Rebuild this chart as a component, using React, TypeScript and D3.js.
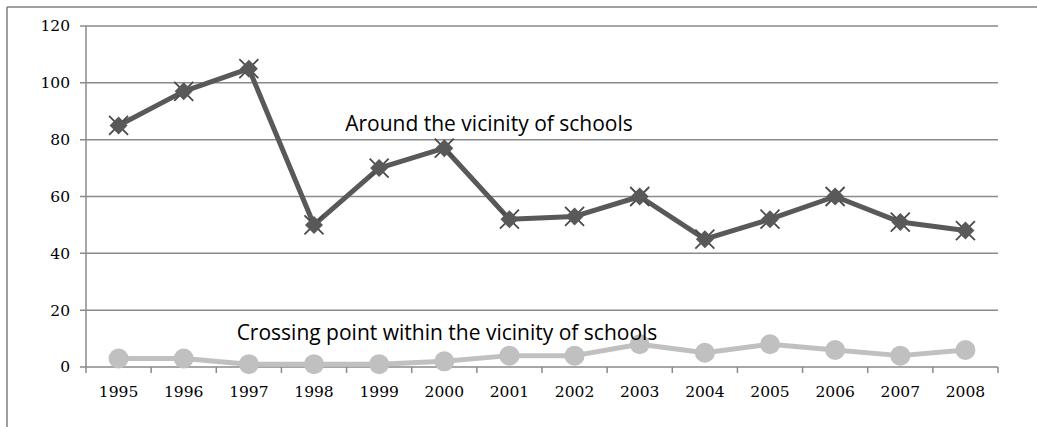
import React from "react";
import * as d3 from "d3";

const years = ["1995","1996","1997","1998","1999","2000","2001","2002","2003","2004","2005","2006","2007","2008"];
const aroundSchools = [85, 97, 105, 50, 70, 77, 52, 53, 60, 45, 52, 60, 51, 48];
const crossingPoint = [3, 3, 1, 1, 1, 2, 4, 4, 8, 5, 8, 6, 4, 6];
const yTicks = [0, 20, 40, 60, 80, 100, 120];

const W = 1037, H = 427;
const left = 86, right = 998, top = 26, bottom = 367;

export default function App() {
  const x = d3.scaleBand<string>().domain(years).range([left, right]);
  const y = d3.scaleLinear().domain([0, 120]).range([bottom, top]);
  const cx = (d: string) => (x(d) as number) + x.bandwidth() / 2;
  const line = d3.line<number>().x((_, i) => cx(years[i])).y((v) => y(v));
  const gridColor = "#8a8a8a";
  const serif = "'DejaVu Serif', serif";
  const sans = "'Open Sans', sans-serif";
  const boundaries = years.map((d) => x(d) as number).concat([right]);
  return (
    <svg width={W} height={H} style={{ position: "absolute", left: 0, top: 0, background: "#fff" }}>
      <line x1={7} y1={7} x2={W} y2={7} stroke="#7f7f7f" strokeWidth={1.5} />
      <line x1={7} y1={7} x2={7} y2={H} stroke="#7f7f7f" strokeWidth={1.5} />
      {yTicks.map((t) => (
        <g key={t}>
          <line x1={left - 6} x2={right} y1={y(t)} y2={y(t)} stroke={gridColor} strokeWidth={1.5} />
          <text x={70} y={y(t)} dy="0.35em" textAnchor="end" fontFamily={serif} fontSize={15.5} fill="#000">{t}</text>
        </g>
      ))}
      <line x1={left} x2={left} y1={top} y2={bottom} stroke={gridColor} strokeWidth={1.5} />
      {boundaries.map((b, i) => (
        <line key={i} x1={b} x2={b} y1={bottom} y2={bottom + 6} stroke={gridColor} strokeWidth={1.5} />
      ))}
      {years.map((d) => (
        <text key={d} x={cx(d)} y={392} dy="0.35em" textAnchor="middle" fontFamily={serif} fontSize={15.5} fill="#000">{d}</text>
      ))}
      <path d={line(crossingPoint) || ""} fill="none" stroke="#c0c0c0" strokeWidth={5} strokeLinejoin="round" />
      {crossingPoint.map((v, i) => (
        <circle key={i} cx={cx(years[i])} cy={y(v)} r={10} fill="#c0c0c0" />
      ))}
      <path d={line(aroundSchools) || ""} fill="none" stroke="#595959" strokeWidth={5} strokeLinejoin="round" />
      {aroundSchools.map((v, i) => {
        const px = cx(years[i]), py = y(v);
        const s = 9.5;
        const d = 9;
        return (
          <g key={i}>
            <path d={`M${px - s},${py - s}L${px + s},${py + s}M${px - s},${py + s}L${px + s},${py - s}`} stroke="#4a4a4a" strokeWidth={1.8} />
            <path d={`M${px},${py - d}L${px + d},${py}L${px},${py + d}L${px - d},${py}Z`} fill="#595959" />
          </g>
        );
      })}
      <text x={489} y={124} dy="0.35em" textAnchor="middle" fontFamily={sans} fontSize={21} fill="#000">Around the vicinity of schools</text>
      <text x={447} y={333} dy="0.35em" textAnchor="middle" fontFamily={sans} fontSize={21} fill="#000">Crossing point within the vicinity of schools</text>
    </svg>
  );
}
